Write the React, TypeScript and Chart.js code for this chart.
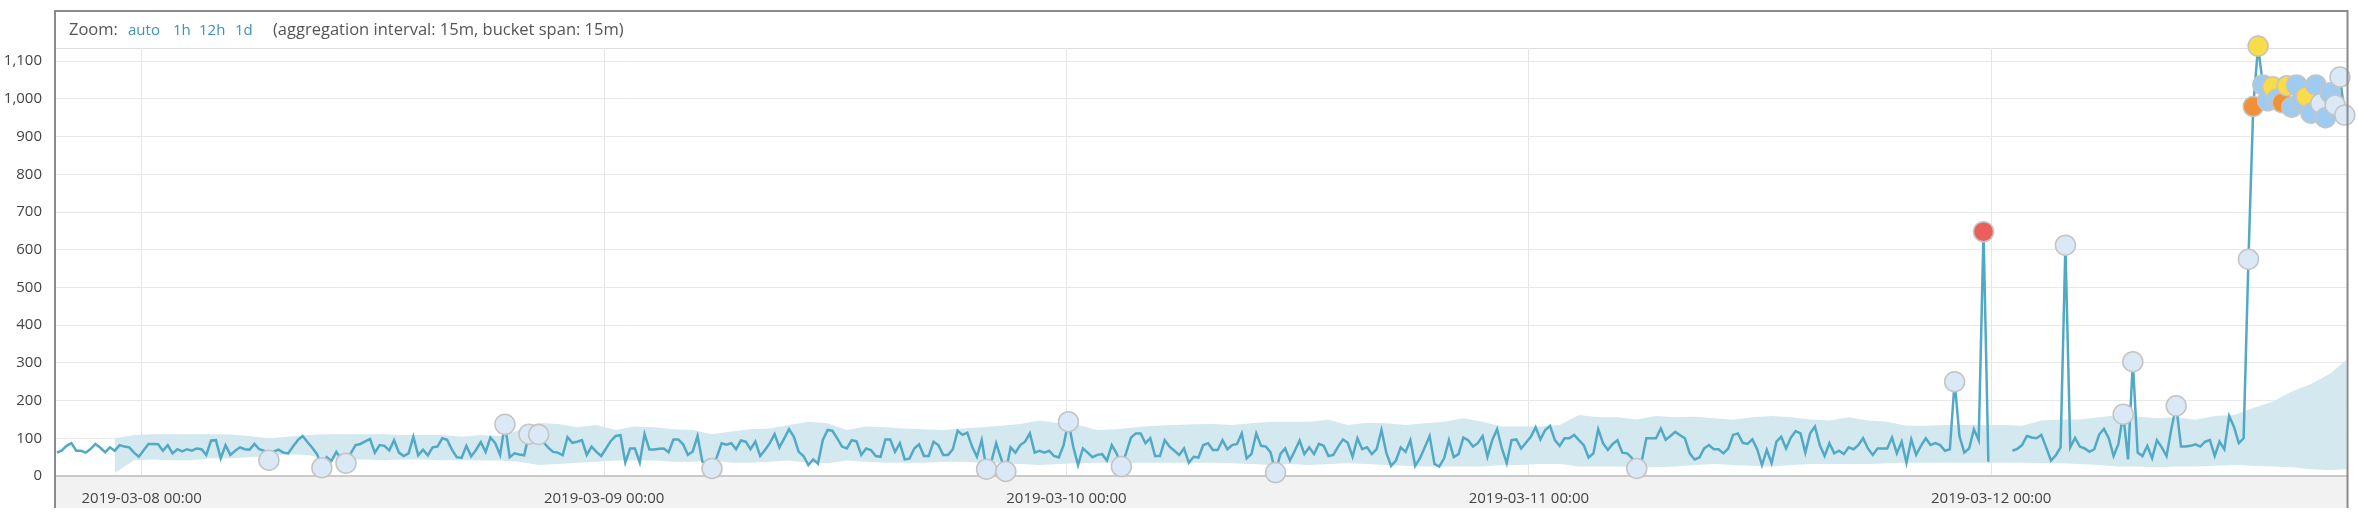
import React, { useEffect, useRef } from 'react';
import { Chart, registerables } from 'chart.js';

Chart.register(...registerables);

// Hours are measured from 2019-03-08 00:00; one bucket = 15 minutes.
const seriesStartHour = -4.4;
const bucketHours = 0.25;

const actualValues: (number | null)[] = [
  62, 68, 80, 87, 67, 67, 62, 72, 85, 75,
  63, 76, 67, 82, 78, 76, 62, 51, 68, 85,
  85, 84, 67, 82, 60, 71, 65, 71, 67, 73,
  71, 56, 94, 95, 47, 82, 56, 67, 76, 71,
  70, 85, 71, 67, 42, 65, 70, 62, 60, 78,
  95, 106, 90, 75, 58, 22, 50, 40, 64, 45,
  34, 60, 82, 85, 92, 98, 62, 82, 80, 68,
  95, 62, 53, 60, 104, 55, 70, 55, 76, 78,
  100, 96, 70, 50, 48, 80, 52, 69, 90, 64,
  102, 87, 56, 137, 50, 60, 57, 55, 111, 105,
  110, 90, 75, 64, 62, 55, 103, 88, 91, 95,
  56, 78, 64, 53, 73, 93, 106, 108, 36, 73,
  73, 36, 111, 70, 70, 72, 73, 63, 97, 97,
  84, 56, 65, 106, 38, 35, 20, 50, 87, 83,
  87, 71, 94, 91, 71, 91, 53, 69, 87, 111,
  76, 100, 124, 104, 64, 53, 29, 44, 33, 95,
  122, 120, 100, 78, 73, 95, 92, 56, 73, 69,
  53, 51, 97, 97, 64, 87, 44, 46, 73, 84,
  53, 53, 91, 82, 56, 56, 71, 120, 109, 115,
  78, 51, 95, 18, 38, 87, 47, 12, 76, 62,
  82, 91, 113, 62, 67, 62, 67, 53, 49, 82,
  144, 78, 29, 73, 62, 50, 56, 58, 41, 82,
  60, 25, 62, 102, 113, 113, 87, 100, 53, 53,
  95, 78, 67, 56, 73, 35, 51, 49, 82, 87,
  69, 69, 95, 71, 82, 85, 113, 47, 58, 113,
  80, 78, 62, 9, 58, 73, 41, 67, 94, 58,
  76, 58, 85, 80, 53, 56, 78, 97, 88, 51,
  100, 71, 76, 58, 71, 122, 62, 27, 41, 76,
  64, 95, 27, 47, 76, 106, 32, 25, 47, 95,
  50, 58, 102, 95, 78, 87, 106, 51, 95, 124,
  73, 34, 95, 97, 73, 88, 104, 129, 97, 122,
  133, 95, 80, 100, 100, 109, 95, 82, 49, 60,
  124, 87, 69, 85, 95, 62, 60, 48, 20, 38,
  100, 100, 100, 126, 96, 106, 117, 108, 100, 60,
  44, 49, 73, 82, 71, 71, 60, 73, 109, 113,
  88, 85, 97, 71, 29, 69, 34, 91, 104, 73,
  102, 119, 113, 62, 113, 131, 82, 53, 87, 60,
  67, 58, 76, 71, 82, 100, 73, 56, 73, 73,
  73, 102, 60, 91, 35, 97, 56, 80, 100, 82,
  87, 82, 67, 71, 250, 106, 62, 73, 124, 95,
  648, 38, null, null, null, null, 67, 72, 82, 106,
  102, 100, 109, 76, 41, 55, 76, 612, 76, 101,
  78, 73, 64, 71, 110, 125, 100, 53, 85, 164,
  44, 303, 62, 53, 80, 47, 95, 76, 53, 125,
  186, 78, 78, 80, 84, 78, 91, 95, 53, 91,
  71, 159, 130, 87, 100, 575, 980, 1140, 1037, 995,
  1032, 1000, 990, 1035, 978, 1037, 995, 1006, 962, 1037,
  988, 950, 1016, 984, 1058, 957,
];

// Model bounds, one value per hour.
const boundsStartHour = -1.4;
const boundsStepHours = 1;
const upperBounds = [
  100, 109, 111, 111, 111, 111, 110, 106, 100, 104, 109, 111, 111, 111, 111, 109, 109, 109,
  104, 109, 106, 122, 141, 138, 129, 135, 122, 131, 129, 124, 122, 111, 118, 124, 126, 135, 144, 140,
  122, 131, 129, 126, 124, 122, 126, 129, 133, 138, 147, 140, 135, 122, 124, 129, 133, 135, 137, 138,
  135, 140, 144, 144, 144, 149, 135, 141, 140, 135, 140, 144, 153, 144, 131, 131, 131, 135, 162, 156,
  156, 150, 159, 156, 157, 153, 149, 156, 159, 156, 150, 147, 156, 147, 144, 133, 133, 135, 135, 135,
  135, 133, 147, 150, 150, 156, 162, 157, 153, 156, 149, 159, 162, 180, 197, 224, 244, 272, 315,
];
const lowerBounds = [
  8, 42, 44, 42, 42, 47, 47, 50, 53, 58, 56, 47, 44, 44, 42, 44, 44, 42,
  42, 41, 41, 38, 29, 32, 35, 38, 41, 41, 41, 38, 38, 41, 35, 35, 38, 41, 35, 34,
  41, 38, 35, 35, 35, 38, 38, 35, 34, 32, 29, 32, 34, 35, 35, 35, 35, 35, 35, 35,
  34, 32, 29, 32, 29, 32, 34, 32, 29, 27, 25, 25, 25, 25, 29, 29, 32, 32, 25, 25,
  25, 23, 23, 25, 29, 32, 29, 27, 25, 29, 32, 32, 32, 32, 34, 35, 35, 35, 35, 35,
  35, 35, 34, 34, 32, 29, 25, 25, 23, 25, 25, 27, 29, 27, 25, 23, 18, 16, 18,
];

const anomalyBuckets = [
  44, 55, 60, 93, 98, 100, 136, 193, 197, 210, 221, 253, 328, 394, 400, 417, 429, 431, 440,
  455, 456, 457, 458, 459, 460, 461, 462, 463, 464, 465, 466, 467, 468, 469, 470, 471, 472,
  473, 474, 475,
];
const anomalySeverity = [
  'low', 'low', 'low', 'low', 'low', 'low', 'low', 'low', 'low', 'low', 'low', 'low', 'low',
  'low', 'critical', 'low', 'low', 'low', 'low',
  'low', 'major', 'minor', 'warning', 'warning', 'minor', 'warning', 'major', 'minor',
  'warning', 'warning', 'warning', 'minor', 'warning', 'warning', 'low', 'warning', 'warning',
  'low', 'low', 'low',
];

const xTickHours = [0, 24, 48, 72, 96];
const xTickLabels = [
  '2019-03-08 00:00',
  '2019-03-09 00:00',
  '2019-03-10 00:00',
  '2019-03-11 00:00',
  '2019-03-12 00:00',
];

const severityColors: Record<string, string> = {
  low: '#dbe9f6',
  warning: '#9ecbf2',
  minor: '#f9dc48',
  major: '#f0913a',
  critical: '#e9605a',
};

const FONT = '"Open Sans", "DejaVu Sans", sans-serif';

const framePlugin = {
  id: 'framePlugin',
  beforeDraw(chart: any) {
    const { ctx, chartArea } = chart;
    ctx.save();
    ctx.fillStyle = '#f2f2f2';
    ctx.fillRect(chartArea.left, chartArea.bottom + 1, chartArea.right - chartArea.left, 31);
    ctx.strokeStyle = '#dedede';
    ctx.lineWidth = 1;
    ctx.beginPath();
    ctx.moveTo(chartArea.left, chartArea.top + 0.5);
    ctx.lineTo(chartArea.right, chartArea.top + 0.5);
    ctx.stroke();
    ctx.restore();
  },
  afterDraw(chart: any) {
    const { ctx, chartArea } = chart;
    ctx.save();
    ctx.strokeStyle = '#8a8a8a';
    ctx.lineWidth = 2;
    ctx.beginPath();
    ctx.moveTo(chartArea.left - 1, 508);
    ctx.lineTo(chartArea.left - 1, 11);
    ctx.lineTo(chartArea.right + 1, 11);
    ctx.lineTo(chartArea.right + 1, 508);
    ctx.stroke();
    ctx.restore();
  },
};

export default function App() {
  const canvasRef = useRef<HTMLCanvasElement | null>(null);

  useEffect(() => {
    if (!canvasRef.current) return;
    const lineData = actualValues.map((v, i) => ({ x: seriesStartHour + i * bucketHours, y: v }));
    const upperData = upperBounds.map((v, i) => ({ x: boundsStartHour + i * boundsStepHours, y: v }));
    const lowerData = lowerBounds.map((v, i) => ({ x: boundsStartHour + i * boundsStepHours, y: v }));
    const markerData = anomalyBuckets.map((b) => ({
      x: seriesStartHour + b * bucketHours,
      y: actualValues[b] as number,
    }));
    const markerColors = anomalySeverity.map((s) => severityColors[s]);

    const chart = new Chart(canvasRef.current, {
      type: 'line',
      data: {
        datasets: [
          {
            label: 'anomalies',
            data: markerData,
            showLine: false,
            pointRadius: 10,
            pointBackgroundColor: markerColors,
            pointBorderColor: '#c4c4c4',
            pointBorderWidth: 1.5,
            order: 0,
            clip: false as any,
          },
          {
            label: 'actual',
            data: lineData,
            borderColor: '#52a9c6',
            borderWidth: 2.5,
            pointRadius: 0,
            tension: 0,
            spanGaps: false,
            fill: false,
            order: 1,
            clip: false as any,
          },
          {
            label: 'upper',
            data: upperData,
            borderWidth: 0,
            borderColor: 'rgba(0,0,0,0)',
            backgroundColor: '#d3e8ef',
            pointRadius: 0,
            fill: '+1',
            order: 2,
          },
          {
            label: 'lower',
            data: lowerData,
            borderWidth: 0,
            borderColor: 'rgba(0,0,0,0)',
            pointRadius: 0,
            fill: false,
            order: 3,
          },
        ],
      },
      options: {
        animation: false,
        responsive: false,
        devicePixelRatio: 1,
        events: [],
        layout: { padding: { left: 0, right: 11, top: 48, bottom: 0 } },
        plugins: {
          legend: { display: false },
          tooltip: { enabled: false },
          title: { display: false },
        },
        scales: {
          x: {
            type: 'linear',
            min: -4.45,
            max: 114.44,
            afterBuildTicks: (scale: any) => {
              scale.ticks = xTickHours.map((v) => ({ value: v }));
            },
            afterFit: (scale: any) => {
              scale.height = 40;
            },
            ticks: {
              autoSkip: false,
              maxRotation: 0,
              padding: 14,
              color: '#444',
              font: { family: FONT, size: 15 },
              callback: (value: any) => {
                const idx = xTickHours.indexOf(Number(value));
                return idx >= 0 ? xTickLabels[idx] : '';
              },
            },
            grid: { color: '#e6e6e6', lineWidth: 1, drawTicks: false },
            border: { display: true, color: '#cacaca', width: 2 },
          },
          y: {
            type: 'linear',
            min: 0,
            max: 1135,
            afterFit: (scale: any) => {
              scale.width = 56;
            },
            ticks: {
              stepSize: 100,
              includeBounds: false,
              padding: 14,
              color: '#444',
              font: { family: FONT, size: 15 },
              callback: (value: any) => Number(value).toLocaleString('en-US'),
            },
            grid: { color: '#e8e8e8', lineWidth: 1, drawTicks: false },
            border: { display: false },
          },
        },
      },
      plugins: [framePlugin],
    });
    return () => chart.destroy();
  }, []);

  const textStyle: React.CSSProperties = {
    position: 'absolute',
    top: 18,
    fontFamily: FONT,
    fontSize: 16.5,
    lineHeight: '22px',
    whiteSpace: 'nowrap',
    color: '#555',
  };
  const linkStyle: React.CSSProperties = { ...textStyle, fontSize: 15, color: '#3d93b8' };

  return (
    <div style={{ position: 'fixed', left: 0, top: 0, width: 2358, height: 516, background: '#fff' }}>
      <canvas ref={canvasRef} width={2358} height={516} style={{ position: 'absolute', left: 0, top: 0 }} />
      <span style={{ ...textStyle, left: 69 }}>Zoom:</span>
      <span style={{ ...linkStyle, left: 128 }}>auto</span>
      <span style={{ ...linkStyle, left: 173 }}>1h</span>
      <span style={{ ...linkStyle, left: 199 }}>12h</span>
      <span style={{ ...linkStyle, left: 235 }}>1d</span>
      <span style={{ ...textStyle, left: 273 }}>(aggregation interval: 15m, bucket span: 15m)</span>
    </div>
  );
}
